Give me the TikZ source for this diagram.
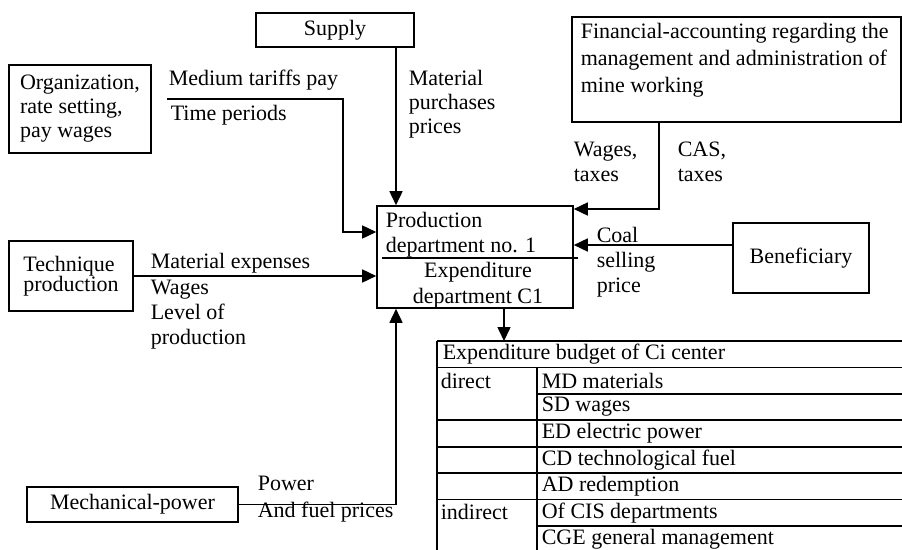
\documentclass[tikz,border=0pt]{standalone}
\usepackage{fontspec}
\setmainfont{Liberation Serif}
\usetikzlibrary{arrows.meta}

\begin{document}
\begin{tikzpicture}[x=1pt, y=-1pt, line width=1.6pt,
	box/.style={draw, inner sep=0pt, font=\fontsize{22}{25}\selectfont},
	lbl/.style={inner sep=0pt, align=left, anchor=west, font=\fontsize{22}{25}\selectfont},
	flow/.style={-{Triangle[length=14pt, width=13pt]}}]
		\useasboundingbox (0,0) rectangle (902,549);
		\clip (0,0) rectangle (902,549);
		\node[box, minimum width=158pt, minimum height=34pt] (supply) at (335,30) {Supply};
		\node[box, minimum width=142pt, minimum height=88pt, align=left, font=\fontsize{22}{24}\selectfont] (org) at (80,109) {Organization,\\rate setting,\\pay wages};
		\node[box, minimum width=124pt, minimum height=70pt, align=left, font=\fontsize{22}{20}\selectfont] (tech) at (71,276) {Technique\\production};
		\node[box, minimum width=211pt, minimum height=35pt] (mech) at (132.5,504.5) {Mechanical-power};
		\node[box, minimum width=329pt, minimum height=105pt] (fin) at (736.5,69.5) {};
		\node[lbl, anchor=north west, font=\fontsize{22}{27}\selectfont] (fintext) at (580,22) {Financial-accounting regarding the\\management and administration of\\mine working};
		\node[box, minimum width=136pt, minimum height=70pt] (ben) at (801,258) {Beneficiary};
		\node[box, minimum width=196pt, minimum height=102pt] (prod) at (475,257) {};
		\node[lbl, anchor=north west] (prodtop) at (385,211) {Production\\department no. 1};
		\node[lbl, anchor=center, align=center, font=\fontsize{22}{26}\selectfont] (prodbot) at (478,285) {Expenditure\\department C1};
		\draw (382,258) -- (578,258);
		\node[lbl] (medium) at (168,80) {Medium tariffs pay};
		\node[lbl] (time) at (170,115) {Time periods};
		\node[lbl, font=\fontsize{22}{24}\selectfont] (matpur) at (408,104) {Material\\purchases\\prices};
		\node[lbl] (wagtax) at (573,162) {Wages,\\taxes};
		\node[lbl] (castax) at (677,162) {CAS,\\taxes};
		\node[lbl] (coal) at (596,262) {Coal\\selling\\price};
		\node[lbl] (matexp) at (150,263) {Material expenses};
		\node[lbl] (wages) at (150,315) {Wages\\Level of\\production};
		\node[lbl] (power) at (257,483) {Power};
		\node[lbl] (fuel) at (257,512) {And fuel prices};
		\coordinate (orgin) at (167,99);
		\coordinate (orgbend) at (343,232);
		\coordinate (finbend) at (659,209);
		\draw[flow] ([xshift=61pt]supply.south) -- ([xshift=61pt]supply.south |- prod.north);
		\draw[flow] (orgin) -| (orgbend) -- (orgbend -| prod.west);
		\draw[flow] (finbend |- fin.south) -- (finbend) -- (finbend -| prod.east);
		\draw[flow] ([yshift=13pt]ben.west) -- ([yshift=13pt]ben.west -| prod.east);
		\draw[flow] (tech.east) -- (tech.east -| prod.west);
		\draw[flow] (mech.east) -| ([xshift=-79pt]prod.south);
		\node[inner sep=0pt, anchor=north west, minimum width=480pt, minimum height=230pt] (tab) at (437,341) {};
		\draw[flow] ([xshift=29pt]prod.south) -- ([xshift=29pt]prod.south |- tab.north);
		\foreach \i in {0,1,3,4,5,6}{
		  \draw (437,{341+26.43*\i}) -- (910,{341+26.43*\i});
		}
		\foreach \i in {2,7}{
		  \draw (537,{341+26.43*\i}) -- (910,{341+26.43*\i});
		}
		\draw (tab.north west) -- (437,560);
		\draw (537,367.43) -- (537,560);
		\node[lbl] (head) at (442,354.2) {Expenditure budget of Ci center};
		\node[lbl] (direct) at (440,380.6) {direct};
		\node[lbl] (indirect) at (440,512.4) {indirect};
		\foreach \t [count=\i] in {MD materials, SD wages, ED electric power, CD technological fuel, AD redemption, Of CIS departments, CGE general management}{
		  \node[lbl] (cost\i) at (541,{354.2+26.43*\i}) {\t};
		}
	\end{tikzpicture}
\end{document}
